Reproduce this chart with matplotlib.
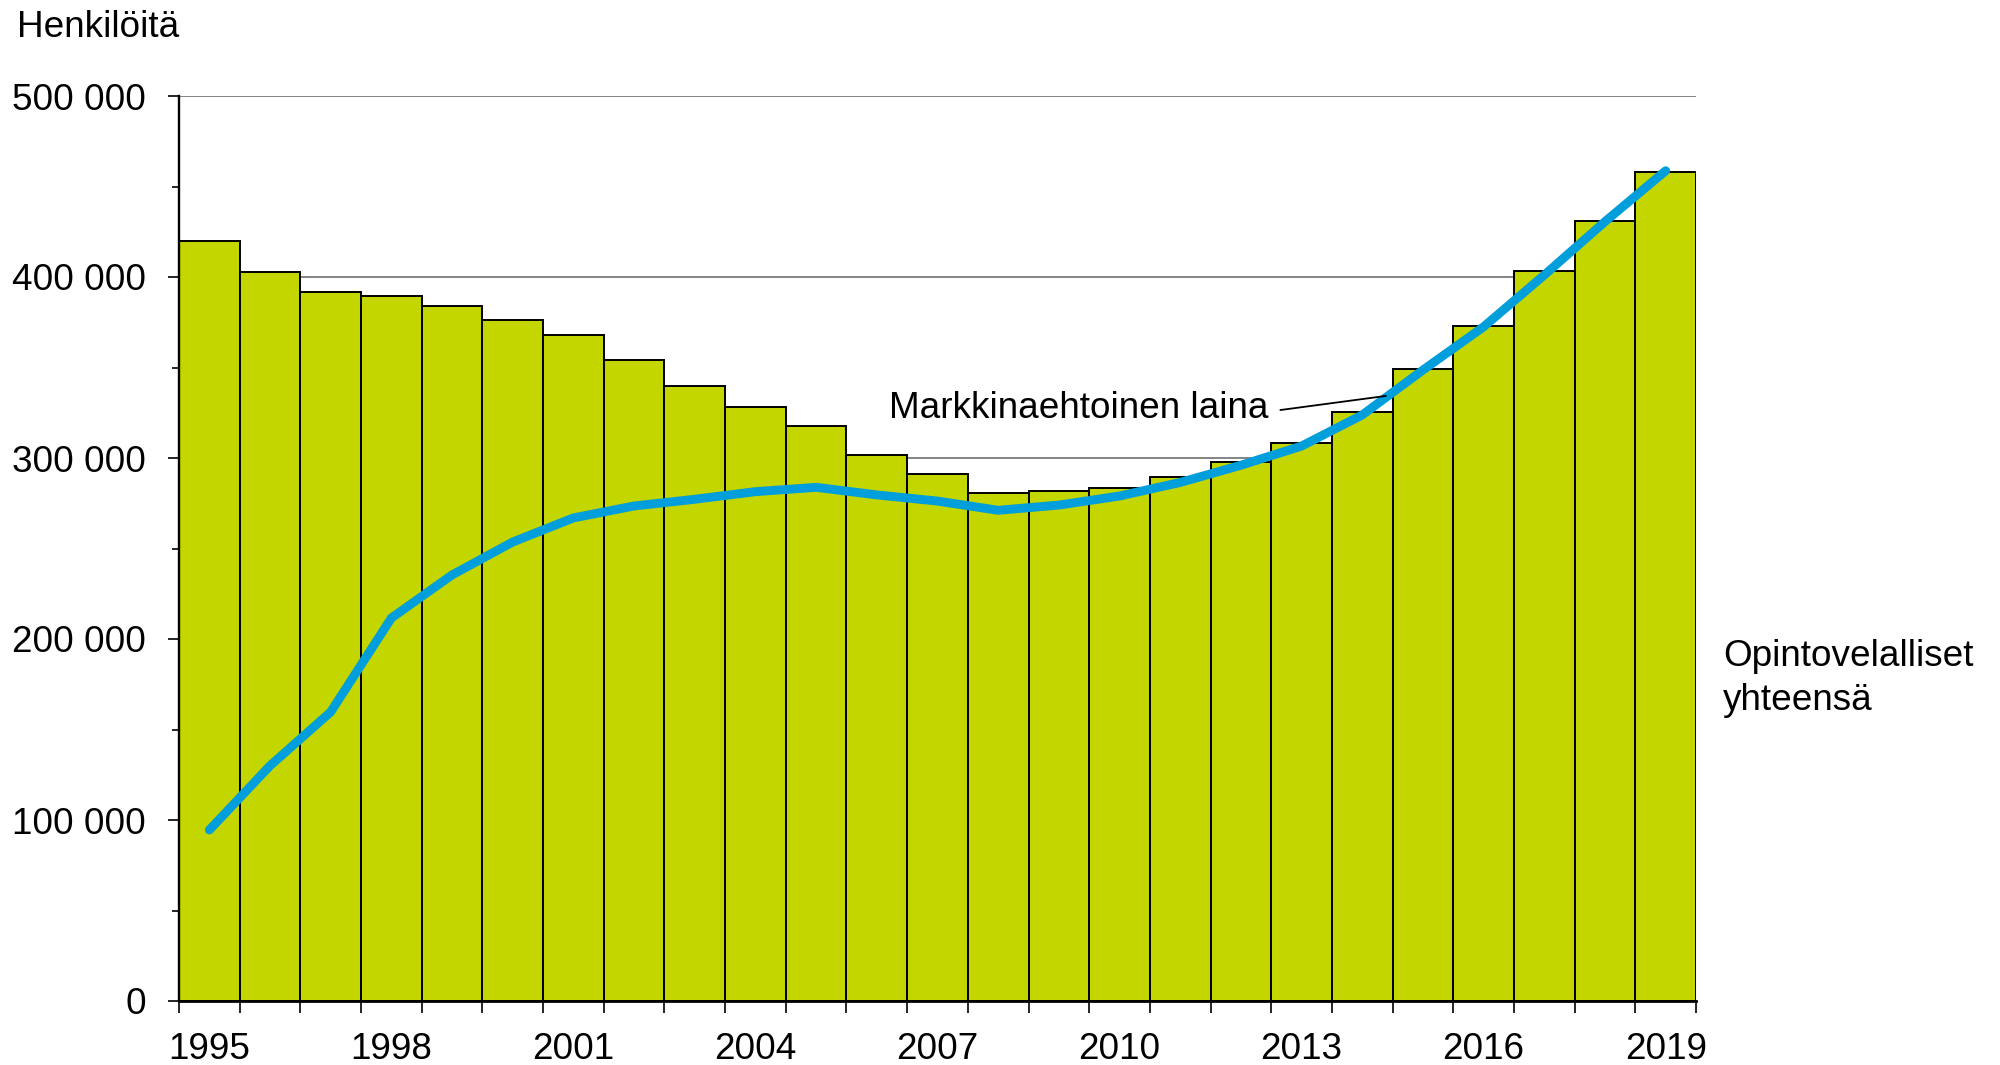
import matplotlib
matplotlib.use("Agg")
import matplotlib.pyplot as plt
from matplotlib.ticker import FuncFormatter, MultipleLocator, FixedLocator

years = list(range(1995, 2020))
total = [420100, 402900, 391500, 389700, 384000, 376200, 367800, 354400, 339700,
         328400, 317900, 301800, 291200, 280800, 281800, 283400, 289700, 298000,
         308100, 325600, 349200, 372900, 403300, 431100, 458200]
market = [94500, 130000, 159700, 211600, 235400, 253600, 266900, 273500, 277200,
          281400, 283800, 279600, 276200, 271100, 274000, 279000, 286500, 296000,
          306600, 323800, 348600, 372500, 401100, 430600, 458700]
label_years = [1995, 1998, 2001, 2004, 2007, 2010, 2013, 2016, 2019]

plt.rcParams['font.family'] = ['Liberation Sans', 'DejaVu Sans']
FS = 26.6
BAR = '#C4D600'
LINE = '#009EDB'

fig = plt.figure(figsize=(20, 10.65), dpi=100)
ax = fig.add_axes([179/2000, 64/1065, (1696-179)/2000, 905/1065])

x = list(range(len(years)))
ax.bar(x, total, width=1.0, color=BAR, edgecolor='black', linewidth=1.4, zorder=2)
ax.plot(x, market, color=LINE, lw=6.4, solid_capstyle='round',
        solid_joinstyle='miter', zorder=3)

ax.set_xlim(-0.5, len(years) - 0.5)
ax.set_ylim(0, 500000)

# grid
ax.yaxis.set_major_locator(MultipleLocator(100000))
ax.yaxis.set_minor_locator(MultipleLocator(50000))
ax.grid(axis='y', which='major', color='#707070', lw=1.2, zorder=0)
ax.set_axisbelow(True)

def fmt(v, pos):
    v = int(round(v))
    return f"{v:,}".replace(",", " ")
ax.yaxis.set_major_formatter(FuncFormatter(fmt))

# x ticks: labels at bar centres, tick marks at bar boundaries
ax.xaxis.set_major_locator(FixedLocator([years.index(y) for y in label_years]))
ax.set_xticklabels([str(y) for y in label_years])
ax.xaxis.set_minor_locator(FixedLocator([i - 0.5 for i in range(len(years) + 1)]))
ax.tick_params(axis='x', which='major', length=0, pad=22, labelsize=FS)
ax.tick_params(axis='x', which='minor', length=8.6, width=1.2, color='black')
ax.tick_params(axis='y', which='major', length=7.9, width=1.2, pad=15.8, labelsize=FS)
ax.tick_params(axis='y', which='minor', length=5, width=1.2)

for s in ['top', 'right']:
    ax.spines[s].set_visible(False)
ax.spines['left'].set_linewidth(1.7)
ax.spines['bottom'].set_linewidth(2.0)

# annotation
ax.text(17.46, 322100, 'Markkinaehtoinen laina', fontsize=FS, ha='right', va='baseline')
ax.annotate('', xy=(19.39, 334300), xytext=(17.65, 326500),
            arrowprops=dict(arrowstyle='-', lw=1.3, color='black', shrinkA=0, shrinkB=0))

fig.text(17/2000, 1 - 36.7/1065, 'Henkilöitä', fontsize=FS, ha='left', va='baseline')
fig.text(1723/2000, 1 - 665.7/1065, 'Opintovelalliset', fontsize=FS, ha='left', va='baseline')
fig.text(1723/2000, 1 - 710/1065, 'yhteensä', fontsize=FS, ha='left', va='baseline')

fig.savefig('out.png', dpi=100)
